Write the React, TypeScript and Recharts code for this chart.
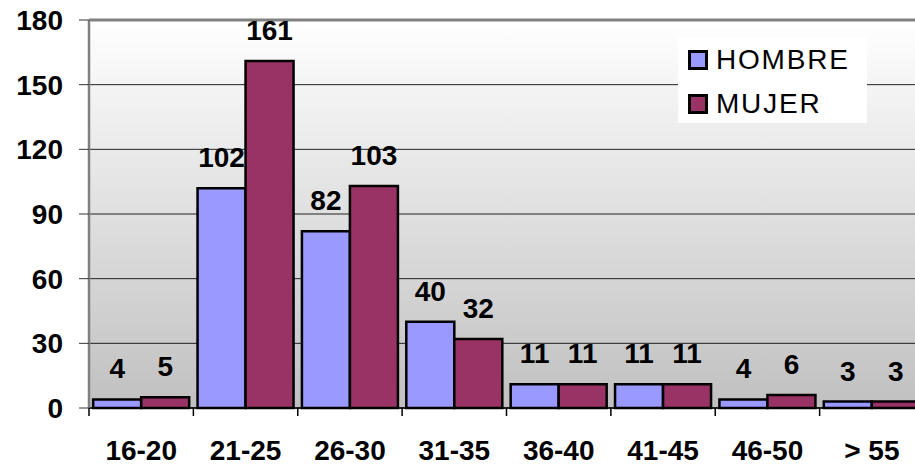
import { BarChart, Bar, XAxis, YAxis, CartesianGrid, LabelList, ReferenceLine } from 'recharts';

const categories = ['16-20', '21-25', '26-30', '31-35', '36-40', '41-45', '46-50', '> 55'];
const hombre = [4, 102, 82, 40, 11, 11, 4, 3];
const mujer = [5, 161, 103, 32, 11, 11, 6, 3];
const yTicks = [0, 30, 60, 90, 120, 150, 180];

const series = [
  { key: 'hombre', name: 'HOMBRE', color: '#9999ff' },
  { key: 'mujer', name: 'MUJER', color: '#993366' },
];

const data = categories.map((grupo, i) => ({
  grupo,
  hombre: hombre[i],
  mujer: mujer[i],
}));

const FONT = "'Liberation Sans', Arial, sans-serif";

// category label plus a small tick at the left edge of its band
const CategoryTick = ({ x, y, payload }: any) => {
  const half = payload.offset || 0;
  return (
    <g>
      <line x1={x - half} x2={x - half} y1={y} y2={y + 8} stroke="#000" strokeWidth={1.5} />
      <text
        x={x}
        y={y + 52}
        textAnchor="middle"
        fill="#000"
        fontSize={28}
        fontWeight="bold"
        fontFamily={FONT}
      >
        {payload.value}
      </text>
    </g>
  );
};

const LegendBox = () => (
  <div
    style={{
      position: 'absolute',
      left: 678,
      top: 37,
      background: '#fff',
      width: 189,
      height: 86,
      boxSizing: 'border-box',
      padding: '3px 0 0 10px',
      fontFamily: FONT,
    }}
  >
    {series.map((s) => (
      <div key={s.key} style={{ display: 'flex', alignItems: 'center', height: 40, marginBottom: 4 }}>
        <div
          style={{
            width: 14,
            height: 14,
            background: s.color,
            border: '3px solid #000',
            marginRight: 8,
          }}
        />
        <span style={{ fontSize: 28, letterSpacing: 1.8, color: '#000' }}>{s.name}</span>
      </div>
    ))}
  </div>
);

export default function App() {
  return (
    <div style={{ position: 'fixed', left: 0, top: 0, width: 915, height: 467, overflow: 'hidden', background: '#fff' }}>
      <BarChart
        width={930}
        height={467}
        data={data}
        margin={{ top: 20, right: 6, left: 0, bottom: 0 }}
        barCategoryGap="4%"
        barGap={0}
      >
        <defs>
          <linearGradient id="bg" x1="0" y1="0" x2="0" y2="1">
            <stop offset="0%" stopColor="#ffffff" />
            <stop offset="100%" stopColor="#c0c0c0" />
          </linearGradient>
        </defs>
        <CartesianGrid vertical={false} stroke="#222" fill="url(#bg)" fillOpacity={1} />
        <XAxis
          dataKey="grupo"
          axisLine={{ stroke: '#000', strokeWidth: 1.5 }}
          tickLine={false}
          tickSize={0}
          tickMargin={0}
          height={59}
          interval={0}
          tick={<CategoryTick />}
        />
        <YAxis
          domain={[0, 180]}
          ticks={yTicks}
          width={89}
          tickSize={10}
          tickMargin={16}
          axisLine={{ stroke: '#808080', strokeWidth: 2.5 }}
          tickLine={{ stroke: '#333' }}
          tick={{ fill: '#000', fontSize: 28, fontWeight: 'bold', fontFamily: FONT }}
        />
        <ReferenceLine y={180} stroke="#808080" strokeWidth={3} />
        {series.map((s) => (
          <Bar
            key={s.key}
            dataKey={s.key}
            name={s.name}
            fill={s.color}
            stroke="#000"
            strokeWidth={2.5}
            isAnimationActive={false}
          >
            <LabelList dataKey={s.key} position="top" offset={21} fill="#000" fontSize={28} fontWeight="bold" fontFamily={FONT} />
          </Bar>
        ))}
      </BarChart>
      <LegendBox />
    </div>
  );
}
